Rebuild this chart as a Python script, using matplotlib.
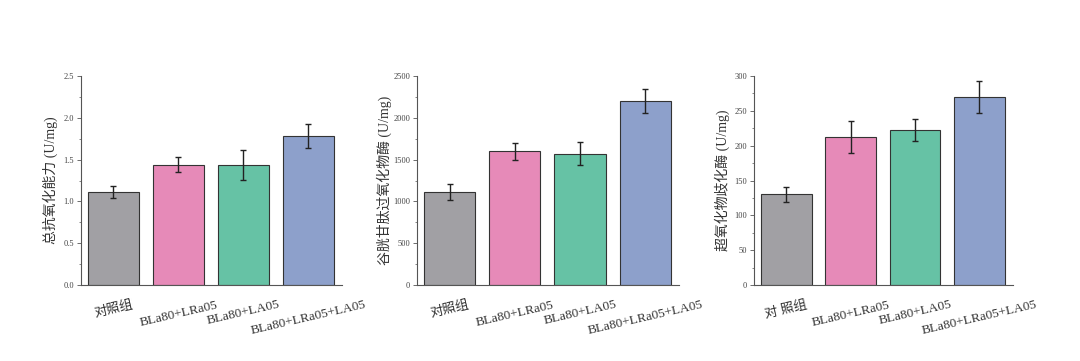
import numpy as np
import matplotlib.pyplot as plt
from matplotlib.ticker import MultipleLocator, AutoMinorLocator

groups = ["对照组", "BLa80+LRa05", "BLa80+LA05", "BLa80+LRa05+LA05"]
colors = ["#A1A0A4", "#E68AB8", "#66C2A5", "#8DA0CB"]

# total antioxidant capacity
tac_mean = [1.11, 1.44, 1.44, 1.78]
tac_err = [0.07, 0.09, 0.18, 0.145]

# glutathione peroxidase
gpx_mean = [1109, 1598, 1570, 2198]
gpx_err = [95, 103, 135, 145]

# superoxide dismutase
sod_mean = [130, 213, 222, 270]
sod_err = [10.5, 23, 16, 23]

panels = [
    (tac_mean, tac_err, "总抗氧化能力 (U/mg)", 2.5, 0.5, "{:.1f}", groups),
    (gpx_mean, gpx_err, "谷胱甘肽过氧化物酶 (U/mg)", 2500, 500, "{:.0f}", groups),
    (sod_mean, sod_err, "超氧化物歧化酶 (U/mg)", 300, 50, "{:.0f}", ["对 照组"] + groups[1:]),
]

fam = ["Liberation Serif", "Noto Sans CJK SC", "DejaVu Sans"]
plt.rcParams["font.family"] = fam

fig = plt.figure(figsize=(10.8, 3.61), dpi=100)
W, H = 1080, 361
lefts = [81, 417, 754]
rights = [342, 679, 1013]
top, bottom = 76, 285
label_pads = [4, 1, 3]

for (mean, err, ylabel, ymax, step, fmt, labels), l, r, lp in zip(panels, lefts, rights, label_pads):
    ax = fig.add_axes([l / W, 1 - bottom / H, (r - l) / W, (bottom - top) / H])
    x = np.arange(len(mean))
    ax.bar(x, mean, width=0.785, color=colors, edgecolor="#333333", linewidth=0.8, zorder=2)
    ax.errorbar(x, mean, yerr=err, fmt="none", ecolor="#222222", elinewidth=1.0,
                capsize=2.5, capthick=1.0, zorder=3)
    ax.set_xlim(-0.5, 3.52)
    ax.set_ylim(0, ymax)
    ax.yaxis.set_major_locator(MultipleLocator(step))
    ax.yaxis.set_minor_locator(AutoMinorLocator(2))
    ax.set_yticks(ax.get_yticks())
    ax.set_yticklabels([fmt.format(v) for v in ax.get_yticks()], fontsize=6, color="#444444")
    ax.set_ylim(0, ymax)
    ax.tick_params(axis="y", which="major", direction="out", length=3, width=0.6, color="#555555", pad=2)
    ax.tick_params(axis="y", which="minor", direction="out", length=1.8, width=0.5, color="#555555")
    ax.set_xticks(x)
    ax.set_xticklabels(labels, rotation=13, ha="center", fontsize=9.5, color="#333333")
    ax.tick_params(axis="x", length=0, pad=10)
    for s in ["top", "right"]:
        ax.spines[s].set_visible(False)
    for s in ["left", "bottom"]:
        ax.spines[s].set_color("#555555")
        ax.spines[s].set_linewidth(0.8)
    ax.set_ylabel(ylabel, fontsize=10, color="#333333", labelpad=lp)

fig.savefig("out.png", dpi=100, facecolor="white")
